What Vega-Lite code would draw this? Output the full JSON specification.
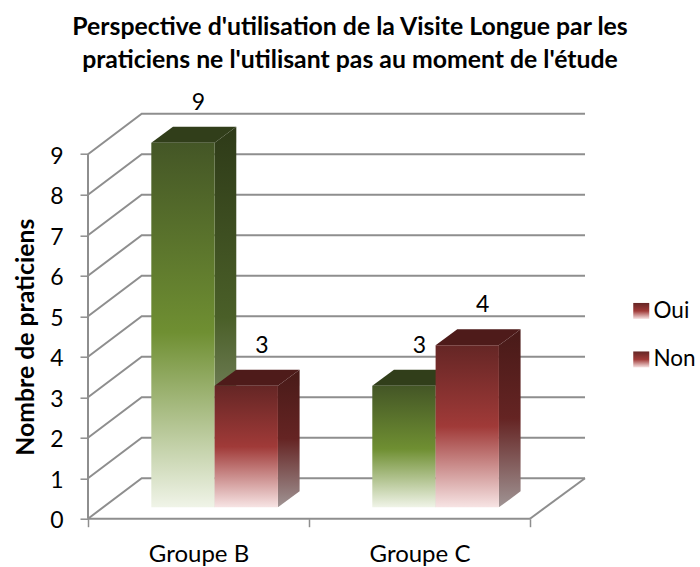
{
"$schema":"https://vega.github.io/schema/vega-lite/v6.json",
"width":497,"height":405,
"autosize":{"type":"none"},
"padding":{"left":88,"top":113.7,"right":115,"bottom":48.3},
"background":"white",
"config":{"view":{"stroke":null},"font":"Lato","text":{"font":"Lato"}},
"title":{"text":["Perspective d'utilisation de la Visite Longue par les","praticiens ne l'utilisant pas au moment de l'étude"],"font":"Lato","fontSize":24.8,"fontWeight":"bold","color":"#000000","anchor":"middle","frame":"group","dx":13.5,"lineHeight":33,"offset":19},
"datasets":{
"barres":[
{"groupe":"Groupe B","serie":"Oui","valeur":9},
{"groupe":"Groupe B","serie":"Non","valeur":3},
{"groupe":"Groupe C","serie":"Oui","valeur":3},
{"groupe":"Groupe C","serie":"Non","valeur":4}],
"graduations":[{"v":0},{"v":1},{"v":2},{"v":3},{"v":4},{"v":5},{"v":6},{"v":7},{"v":8},{"v":9}]
},
"resolve":{"axis":{"x":"independent","y":"independent"}},
"layer":[
{"data":{"name":"graduations"},
 "transform":[{"calculate":"[0,1,2]","as":"t"},{"flatten":["t"]},
  {"calculate":"datum.t==0?0:(datum.t==1?0.243:2.249)","as":"gx"},
  {"calculate":"datum.t==0?datum.v:datum.v+1","as":"gy"}],
 "mark":{"type":"line","color":"#8e8e8e","strokeWidth":2},
 "encoding":{
  "x":{"field":"gx","type":"quantitative","scale":{"domain":[0,2.249]},
    "axis":{"values":[0,0.5,1,1.5,2],"title":null,"grid":false,"domain":false,"tickColor":"#8e8e8e","tickWidth":1.5,"tickSize":8,"tickOpacity":{"expr":"datum.value%1==0?1:0"},
      "labelExpr":"datum.value==0.5?'Groupe B':(datum.value==1.5?'Groupe C':'')","labelFont":"Lato","labelFontSize":24,"labelColor":"#000000","labelPadding":16,"labelFlush":false,"labelOverlap":false}},
  "y":{"field":"gy","type":"quantitative","scale":{"domain":[0,10]},
    "axis":{"values":[0,1,2,3,4,5,6,7,8,9],"title":"Nombre de praticiens","grid":false,"domain":false,"tickColor":"#8e8e8e","tickWidth":1.5,"tickSize":8,
      "labelFont":"Lato","labelFontSize":23,"labelColor":"#000000","labelPadding":17,"labelOffset":2,
      "titleFont":"Lato","titleFontSize":24.8,"titleFontWeight":"bold","titleColor":"#000000","titleX":-49.5,"titleY":223}},
  "detail":{"field":"v"},
  "order":{"field":"t"}}},
{"data":{"values":[{"v":0},{"v":9}]},
 "transform":[{"calculate":"0","as":"gx"}],
 "mark":{"type":"line","color":"#8e8e8e","strokeWidth":2},
 "encoding":{"x":{"field":"gx","type":"quantitative","scale":{"domain":[0,2.249]},"axis":null},
  "y":{"field":"v","type":"quantitative","scale":{"domain":[0,10]},"axis":null}}},
{"data":{"values":[{"g":0},{"g":2}]},
 "transform":[{"calculate":"0","as":"gy"}],
 "mark":{"type":"line","color":"#8e8e8e","strokeWidth":2},
 "encoding":{"x":{"field":"g","type":"quantitative","scale":{"domain":[0,2.249]},"axis":null},
  "y":{"field":"gy","type":"quantitative","scale":{"domain":[0,10]},"axis":null}}},
{"data":{"values":[{"t":0},{"t":1}]},
 "transform":[{"calculate":"2+datum.t*0.249","as":"gx"},{"calculate":"datum.t","as":"gy"}],
 "mark":{"type":"line","color":"#8e8e8e","strokeWidth":2},
 "encoding":{"x":{"field":"gx","type":"quantitative","scale":{"domain":[0,2.249]},"axis":null},
  "y":{"field":"gy","type":"quantitative","scale":{"domain":[0,10]},"axis":null}}},
{"data":{"name":"barres"},
 "transform":[
  {"filter":"datum.serie=='Oui'"},
  {"calculate":"indexof(['Groupe B','Groupe C'],datum.groupe)+0.2865+0.2865","as":"x1"},
  {"calculate":"[0,1]","as":"t"},{"flatten":["t"]},
  {"calculate":"datum.x1+datum.t*0.098","as":"sx"},
  {"calculate":"0.28+datum.t*0.395","as":"sb"},
  {"calculate":"0.28+datum.valeur+datum.t*0.395","as":"st"},
  {"calculate":"datum.groupe+datum.serie","as":"k"}],
 "mark":{"type":"area","orient":"vertical","fill":{"gradient":"linear","x1":0,"y1":0,"x2":0,"y2":1,"stops":[{"offset":0,"color":"#2e3a18"},{"offset":0.5,"color":"#4a5f28"},{"offset":1,"color":"#a3a896"}]}},
 "encoding":{"x":{"field":"sx","type":"quantitative","scale":{"domain":[0,2.249]},"axis":null},
  "y":{"field":"st","type":"quantitative","scale":{"domain":[0,10]},"axis":null,"stack":null},"y2":{"field":"sb"},"detail":{"field":"k"}}},
{"data":{"name":"barres"},
 "transform":[
  {"filter":"datum.serie=='Non'"},
  {"calculate":"indexof(['Groupe B','Groupe C'],datum.groupe)+0.2865+0.573","as":"x1"},
  {"calculate":"[0,1]","as":"t"},{"flatten":["t"]},
  {"calculate":"datum.x1+datum.t*0.098","as":"sx"},
  {"calculate":"0.28+datum.t*0.395","as":"sb"},
  {"calculate":"0.28+datum.valeur+datum.t*0.395","as":"st"},
  {"calculate":"datum.groupe+datum.serie","as":"k"}],
 "mark":{"type":"area","orient":"vertical","fill":{"gradient":"linear","x1":0,"y1":0,"x2":0,"y2":1,"stops":[{"offset":0,"color":"#481a18"},{"offset":0.5,"color":"#652423"},{"offset":1,"color":"#a09494"}]}},
 "encoding":{"x":{"field":"sx","type":"quantitative","scale":{"domain":[0,2.249]},"axis":null},
  "y":{"field":"st","type":"quantitative","scale":{"domain":[0,10]},"axis":null,"stack":null},"y2":{"field":"sb"},"detail":{"field":"k"}}},
{"data":{"name":"barres"},
 "transform":[
  {"filter":"datum.serie=='Oui'"},
  {"calculate":"indexof(['Groupe B','Groupe C'],datum.groupe)+0.2865","as":"x0"},
  {"calculate":"[0,1]","as":"t"},{"flatten":["t"]},
  {"calculate":"datum.x0+datum.t*0.098","as":"ta"},
  {"calculate":"datum.x0+0.2865+datum.t*0.098","as":"tb"},
  {"calculate":"0.28+datum.valeur+datum.t*0.395","as":"ty"},
  {"calculate":"datum.groupe+datum.serie","as":"k"}],
 "mark":{"type":"area","orient":"horizontal","color":"#313e1a"},
 "encoding":{"x":{"field":"ta","type":"quantitative","scale":{"domain":[0,2.249]},"axis":null,"stack":null},"x2":{"field":"tb"},
  "y":{"field":"ty","type":"quantitative","scale":{"domain":[0,10]},"axis":null},"detail":{"field":"k"}}},
{"data":{"name":"barres"},
 "transform":[
  {"filter":"datum.serie=='Non'"},
  {"calculate":"indexof(['Groupe B','Groupe C'],datum.groupe)+0.573","as":"x0"},
  {"calculate":"[0,1]","as":"t"},{"flatten":["t"]},
  {"calculate":"datum.x0+datum.t*0.098","as":"ta"},
  {"calculate":"datum.x0+0.2865+datum.t*0.098","as":"tb"},
  {"calculate":"0.28+datum.valeur+datum.t*0.395","as":"ty"},
  {"calculate":"datum.groupe+datum.serie","as":"k"}],
 "mark":{"type":"area","orient":"horizontal","color":"#4e1b1a"},
 "encoding":{"x":{"field":"ta","type":"quantitative","scale":{"domain":[0,2.249]},"axis":null,"stack":null},"x2":{"field":"tb"},
  "y":{"field":"ty","type":"quantitative","scale":{"domain":[0,10]},"axis":null},"detail":{"field":"k"}}},
{"data":{"name":"barres"},
 "transform":[
  {"calculate":"indexof(['Groupe B','Groupe C'],datum.groupe)+0.2865+(datum.serie=='Oui'?0:0.2865)","as":"x0"},
  {"calculate":"datum.x0+0.2865","as":"x1"},
  {"calculate":"0.28","as":"yb"},
  {"calculate":"0.28+datum.valeur","as":"yt"}],
 "mark":{"type":"rect","strokeWidth":0},
 "encoding":{"x":{"field":"x0","type":"quantitative","scale":{"domain":[0,2.249]},"axis":null},"x2":{"field":"x1"},
  "y":{"field":"yb","type":"quantitative","scale":{"domain":[0,10]},"axis":null},"y2":{"field":"yt"},
  "fill":{"condition":{"test":"datum.serie=='Oui'","value":{"gradient":"linear","x1":0,"y1":0,"x2":0,"y2":1,"stops":[{"offset":0,"color":"#445626"},{"offset":0.52,"color":"#6f8f32"},{"offset":1,"color":"#f0f4e8"}]}},
    "value":{"gradient":"linear","x1":0,"y1":0,"x2":0,"y2":1,"stops":[{"offset":0,"color":"#652625"},{"offset":0.5,"color":"#a03a38"},{"offset":1,"color":"#f7e4e4"}]}},
  "stroke":{"field":"serie","type":"nominal","scale":{"domain":["Oui","Non"],"range":["#6f8f32","#a03a38"]},
    "legend":{"orient":"none","legendX":542,"legendY":186,"title":null,"symbolType":"square","symbolSize":256,"symbolStrokeWidth":0,"labelFont":"Lato","labelFontSize":22.5,"labelColor":"#000000","labelOffset":1,"rowPadding":25.5,
     "encode":{"symbols":{"update":{"fill":[{"test":"datum.value=='Oui'","value":{"gradient":"linear","x1":0,"y1":0,"x2":0,"y2":1,"stops":[{"offset":0,"color":"#445626"},{"offset":0.52,"color":"#6f8f32"},{"offset":1,"color":"#f0f4e8"}]}},{"value":{"gradient":"linear","x1":0,"y1":0,"x2":0,"y2":1,"stops":[{"offset":0,"color":"#652625"},{"offset":0.5,"color":"#a03a38"},{"offset":1,"color":"#f7e4e4"}]}}],"strokeWidth":{"value":0},"opacity":{"value":1}}}}}}}},
{"data":{"name":"barres"},
 "transform":[
  {"calculate":"indexof(['Groupe B','Groupe C'],datum.groupe)+0.2865+(datum.serie=='Oui'?0:0.2865)+0.2135","as":"lx"},
  {"calculate":"0.28+datum.valeur+0.395","as":"ly"}],
 "mark":{"type":"text","font":"Lato","fontSize":23,"color":"#000000","dy":-24,"align":"center"},
 "encoding":{"x":{"field":"lx","type":"quantitative","scale":{"domain":[0,2.249]},"axis":null},
  "y":{"field":"ly","type":"quantitative","scale":{"domain":[0,10]},"axis":null},
  "text":{"field":"valeur","type":"quantitative"}}}
]
}
